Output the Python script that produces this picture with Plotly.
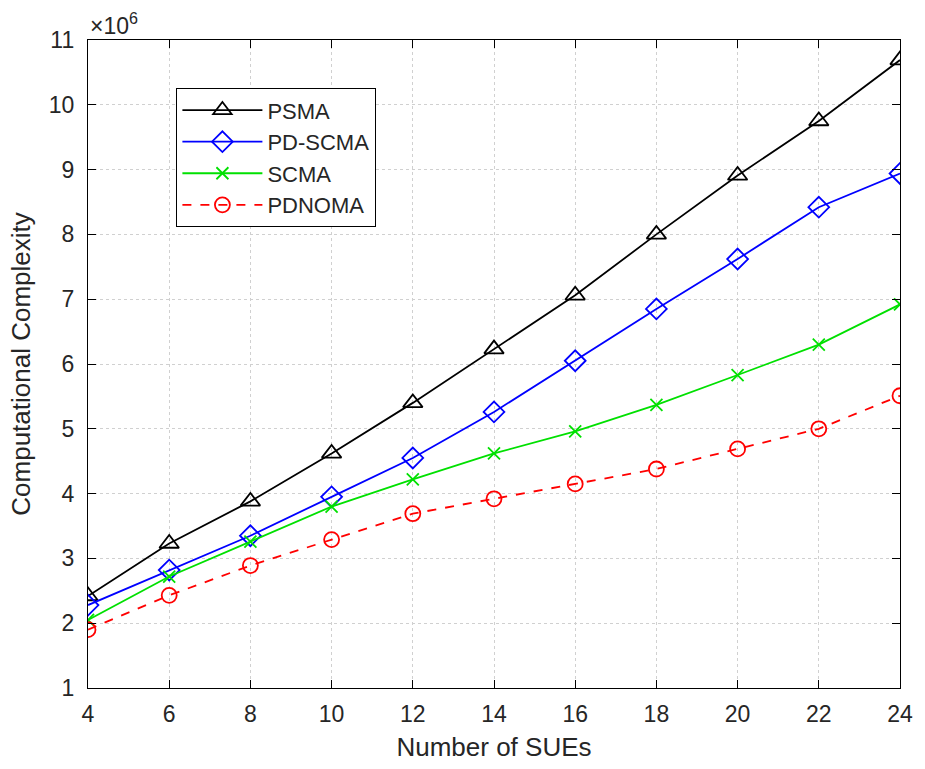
import plotly.graph_objects as go

x_sues = [4, 6, 8, 10, 12, 14, 16, 18, 20, 22, 24]
psma = [2.42, 3.23, 3.88, 4.62, 5.40, 6.23, 7.06, 8.00, 8.91, 9.75, 10.69]
pd_scma = [2.28, 2.82, 3.35, 3.95, 4.55, 5.26, 6.05, 6.85, 7.62, 8.42, 8.94]
scma = [2.05, 2.72, 3.26, 3.80, 4.22, 4.62, 4.96, 5.37, 5.83, 6.30, 6.92]
pdnoma = [1.90, 2.43, 2.89, 3.29, 3.69, 3.92, 4.15, 4.38, 4.69, 5.00, 5.51]
x_ticks = [4, 6, 8, 10, 12, 14, 16, 18, 20, 22, 24]
y_ticks = [1, 2, 3, 4, 5, 6, 7, 8, 9, 10, 11]

font_family = "Liberation Sans, Arial, sans-serif"
text_color = "#262626"

fig = go.Figure()
series = [
    ("PSMA", psma, "black", "triangle-up-open", "solid", 17),
    ("PD-SCMA", pd_scma, "#0000FF", "diamond-open", "solid", 16),
    ("SCMA", scma, "#00E000", "x-thin-open", "solid", 12),
    ("PDNOMA", pdnoma, "#FF0000", "circle-open", "dash", 15),
]
for name, ys, color, sym, dash, size in series:
    fig.add_trace(go.Scatter(
        x=x_sues, y=ys, name=name, mode="lines+markers",
        line=dict(color=color, width=1.8, dash=dash),
        marker=dict(symbol=sym, size=size, color=color,
                    line=dict(color=color, width=1.8)),
    ))

axis_common = dict(
    showline=True, linecolor="black", linewidth=1.3, mirror="allticks",
    ticks="inside", ticklen=8, tickcolor="black",
    showgrid=True, gridcolor="#d0d0d0", griddash="dot", gridwidth=1,
    zeroline=False,
    tickfont=dict(family=font_family, size=23, color=text_color),
)

fig.update_layout(
    width=925, height=769,
    margin=dict(l=88, r=17, t=40, b=79),
    paper_bgcolor="white", plot_bgcolor="white",
    font=dict(family=font_family, color=text_color, size=22),
    showlegend=True,
    legend=dict(
        x=0.1085, y=0.926, xanchor="left", yanchor="top",
        bordercolor="black", borderwidth=1.3, bgcolor="white",
        font=dict(family=font_family, size=22, color=text_color),
        itemwidth=80, tracegroupgap=0,
    ),
    xaxis=dict(
        range=[4, 24], tickvals=x_ticks, ticklabelstandoff=5,
        title=dict(text="Number of SUEs", font=dict(family=font_family, size=26, color=text_color), standoff=12),
        **axis_common,
    ),
    yaxis=dict(
        range=[1, 11], tickvals=y_ticks, ticklabelstandoff=8,
        title=dict(text="Computational Complexity", font=dict(family=font_family, size=26, color=text_color), standoff=10),
        **axis_common,
    ),
)

fig.add_annotation(
    xref="paper", yref="paper", x=0.0, y=1.0, xanchor="left", yanchor="bottom",
    text="×10<sup>6</sup>", showarrow=False, yshift=-1,
    font=dict(family=font_family, size=23, color=text_color),
)

fig.write_html("out.html")
